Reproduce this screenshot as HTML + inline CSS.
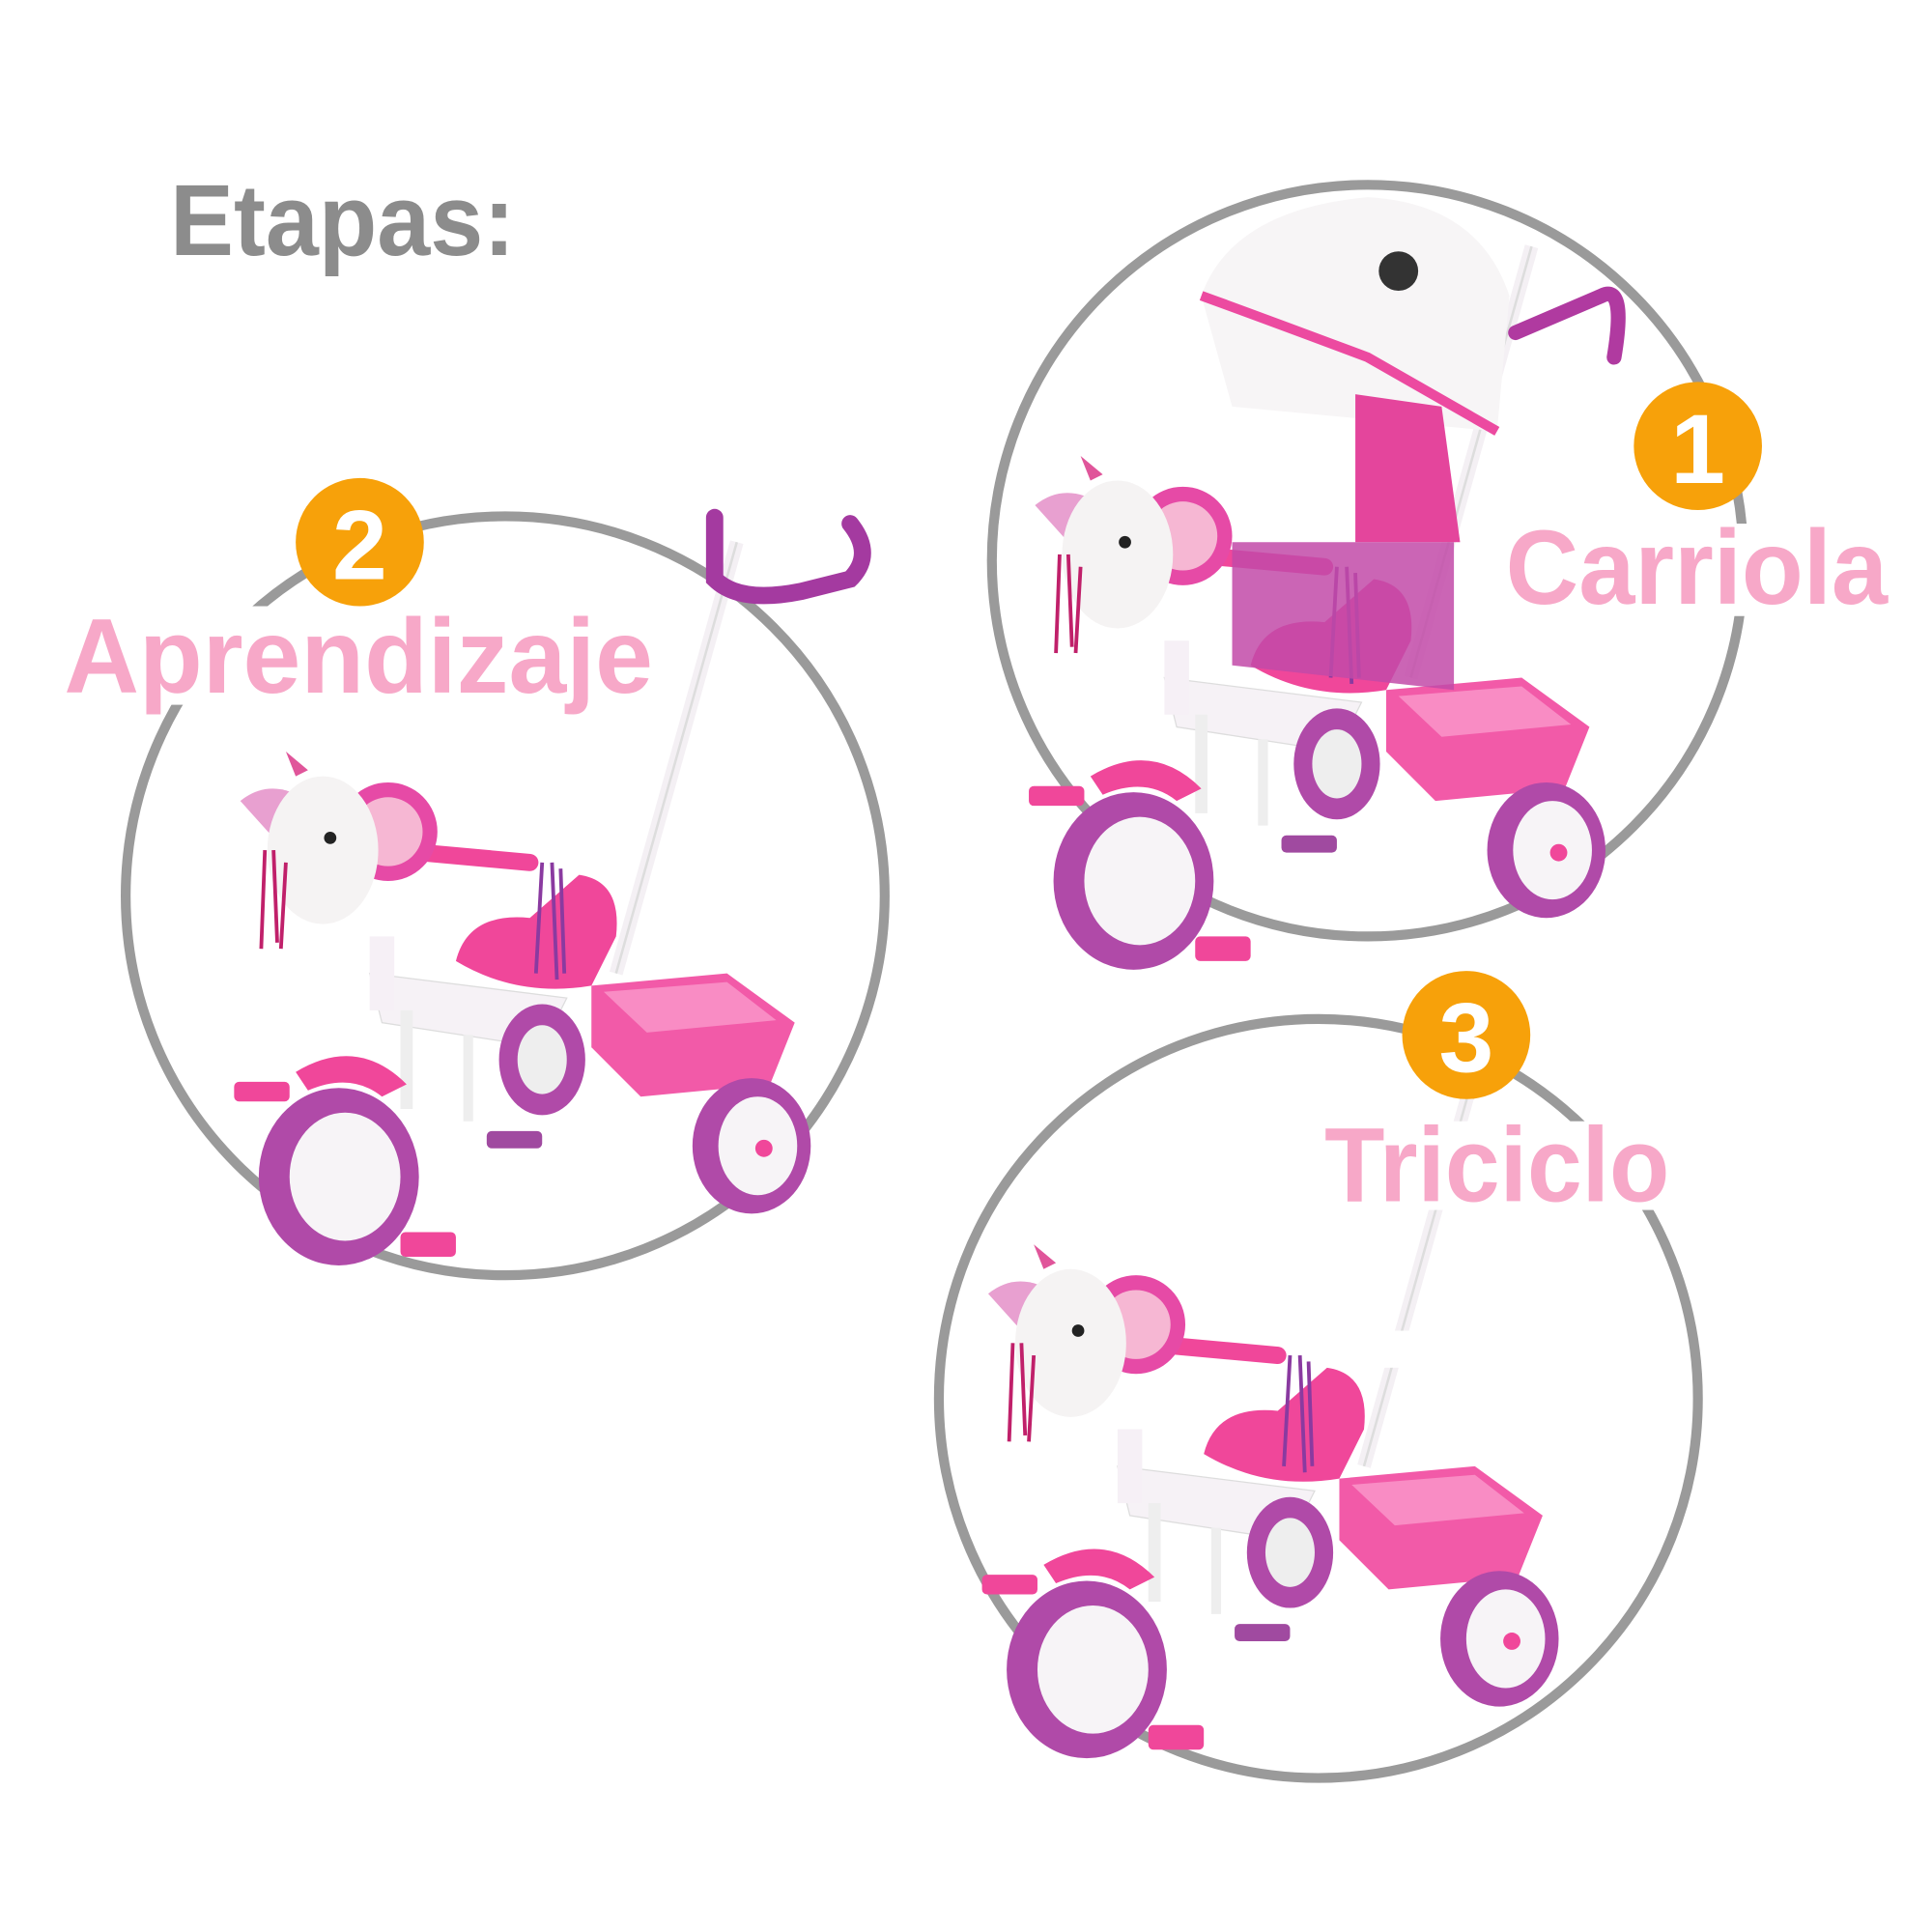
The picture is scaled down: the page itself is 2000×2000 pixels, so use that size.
<!DOCTYPE html>
<html><head><meta charset="utf-8"><style>
html,body{margin:0;padding:0;background:#fff;width:2000px;height:2000px;overflow:hidden}
svg{display:block}
text{font-family:"Liberation Sans",sans-serif;font-weight:bold}
</style></head><body>
<svg width="2000" height="2000" viewBox="0 0 1568 1568" xmlns="http://www.w3.org/2000/svg">
<defs>
<g id="trike">
  <!-- push handle -->
  <line x1="500" y1="790" x2="598" y2="440" stroke="#f4f0f4" stroke-width="11"/>
  <line x1="500" y1="790" x2="598" y2="440" stroke="#ddd" stroke-width="2"/>
  <!-- frame -->
  <path d="M300 790 L460 810 L440 850 L310 830 Z" fill="#f6f2f6" stroke="#ddd"/>
  <line x1="330" y1="820" x2="330" y2="900" stroke="#eee" stroke-width="10"/>
  <line x1="380" y1="840" x2="380" y2="910" stroke="#eee" stroke-width="8"/>
  <!-- rear wheel back -->
  <ellipse cx="440" cy="860" rx="35" ry="45" fill="#b04aa8"/>
  <ellipse cx="440" cy="860" rx="20" ry="28" fill="#eee"/>
  <!-- seat -->
  <path d="M370 780 Q380 740 430 745 L470 710 Q505 715 500 760 L480 800 Q420 810 370 780 Z" fill="#f0479a"/>
  <!-- basket -->
  <path d="M480 800 L590 790 L645 830 L625 880 L520 890 L480 850 Z" fill="#f25aa8"/>
  <path d="M490 805 L590 797 L630 828 L525 838 Z" fill="#f98cc4"/>
  <!-- rear wheel -->
  <ellipse cx="610" cy="930" rx="48" ry="55" fill="#b04aa8"/>
  <ellipse cx="615" cy="930" rx="32" ry="40" fill="#f7f4f7"/>
  <circle cx="620" cy="932" r="7" fill="#f0479a"/>
  <!-- front wheel -->
  <ellipse cx="275" cy="955" rx="65" ry="72" fill="#b04aa8"/>
  <ellipse cx="280" cy="955" rx="45" ry="52" fill="#f7f4f7"/>
  <!-- fender -->
  <path d="M240 870 Q290 840 330 880 L310 890 Q285 870 250 885 Z" fill="#f0479a"/>
  <!-- pedals -->
  <rect x="190" y="878" width="45" height="16" rx="4" fill="#f0479a"/>
  <rect x="325" y="1000" width="45" height="20" rx="4" fill="#f0479a"/>
  <rect x="395" y="918" width="45" height="14" rx="4" fill="#a04aa0"/>
  <!-- handlebar column -->
  <rect x="300" y="760" width="20" height="60" fill="#f6f0f6"/>
  <line x1="320" y1="690" x2="430" y2="700" stroke="#f0479a" stroke-width="14" stroke-linecap="round"/>
  <!-- head disc -->
  <circle cx="315" cy="675" r="40" fill="#e64aa6"/>
  <circle cx="315" cy="675" r="28" fill="#f6b7d3"/>
  <!-- unicorn -->
  <path d="M195 650 Q220 630 250 650 L240 700 Z" fill="#e8a0d0"/>
  <ellipse cx="262" cy="690" rx="45" ry="60" fill="#f5f3f3"/>
  <circle cx="268" cy="680" r="5" fill="#222"/>
  <path d="M240 630 L232 610 L250 625 Z" fill="#e0559a"/>
  <!-- tassels -->
  <path d="M215 690 L212 770 M222 690 L225 765 M232 700 L228 770" stroke="#c0206a" stroke-width="3"/>
  <path d="M440 700 L435 790 M448 700 L452 795 M455 705 L458 790" stroke="#8a3aa0" stroke-width="3"/>
</g>
</defs>

<text x="138" y="207" font-size="82" fill="#8c8c8c" textLength="280" lengthAdjust="spacingAndGlyphs">Etapas:</text>

<!-- circles -->
<circle cx="1110" cy="455" r="305" fill="none" stroke="#9a9a9a" stroke-width="8"/>
<circle cx="410" cy="727" r="308" fill="none" stroke="#9a9a9a" stroke-width="8"/>
<circle cx="1070" cy="1135" r="308" fill="none" stroke="#9a9a9a" stroke-width="8"/>

<!-- trike 2 -->
<use href="#trike"/>
<path d="M580 420 L580 470 Q600 490 650 480 L690 470 Q710 450 690 425" fill="none" stroke="#a43aa0" stroke-width="14" stroke-linecap="round"/>

<!-- trike 1 -->
<g transform="translate(645,-240)"><use href="#trike"/></g>
<path d="M975 240 Q1000 170 1110 160 Q1200 165 1225 240 L1215 350 L1000 330 Z" fill="#f7f5f6"/>
<path d="M975 240 Q1030 260 1110 290 L1215 350" fill="none" stroke="#ec4aa0" stroke-width="8"/>
<path d="M1100 320 L1170 330 L1185 440 L1100 440 Z" fill="#e4459c"/>
<path d="M1000 440 L1180 440 L1180 560 L1000 540 Z" fill="#c24aa8" opacity="0.85"/>
<circle cx="1135" cy="220" r="16" fill="#333"/>
<path d="M1230 270 L1300 240 Q1320 230 1310 290" fill="none" stroke="#b03aa0" stroke-width="12" stroke-linecap="round"/>

<!-- trike 3 -->
<g transform="translate(607,400)"><use href="#trike"/></g>
<rect x="1090" y="1080" width="60" height="30" fill="#fff"/>
<rect x="1170" y="1190" width="0" height="0" fill="#fff"/>

<!-- label backgrounds -->
<rect x="1215" y="425" width="325" height="75" fill="#fff"/>
<rect x="45" y="492" width="492" height="80" fill="#fff"/>
<rect x="1068" y="910" width="295" height="72" fill="#fff"/>

<!-- badges -->
<circle cx="1378" cy="362" r="52" fill="#f7a10a"/>
<text x="1378" y="392" font-size="80" fill="#fff" text-anchor="middle">1</text>
<circle cx="292" cy="440" r="52" fill="#f7a10a"/>
<text x="292" y="470" font-size="80" fill="#fff" text-anchor="middle">2</text>
<circle cx="1190" cy="840" r="52" fill="#f7a10a"/>
<text x="1190" y="870" font-size="80" fill="#fff" text-anchor="middle">3</text>

<!-- labels -->
<text x="1222" y="490" font-size="86" fill="#f7a8c8" textLength="310" lengthAdjust="spacingAndGlyphs">Carriola</text>
<text x="52" y="562" font-size="86" fill="#f7a8c8" textLength="478" lengthAdjust="spacingAndGlyphs">Aprendizaje</text>
<text x="1075" y="975" font-size="86" fill="#f7a8c8" textLength="280" lengthAdjust="spacingAndGlyphs">Triciclo</text>
</svg>
</body></html>
